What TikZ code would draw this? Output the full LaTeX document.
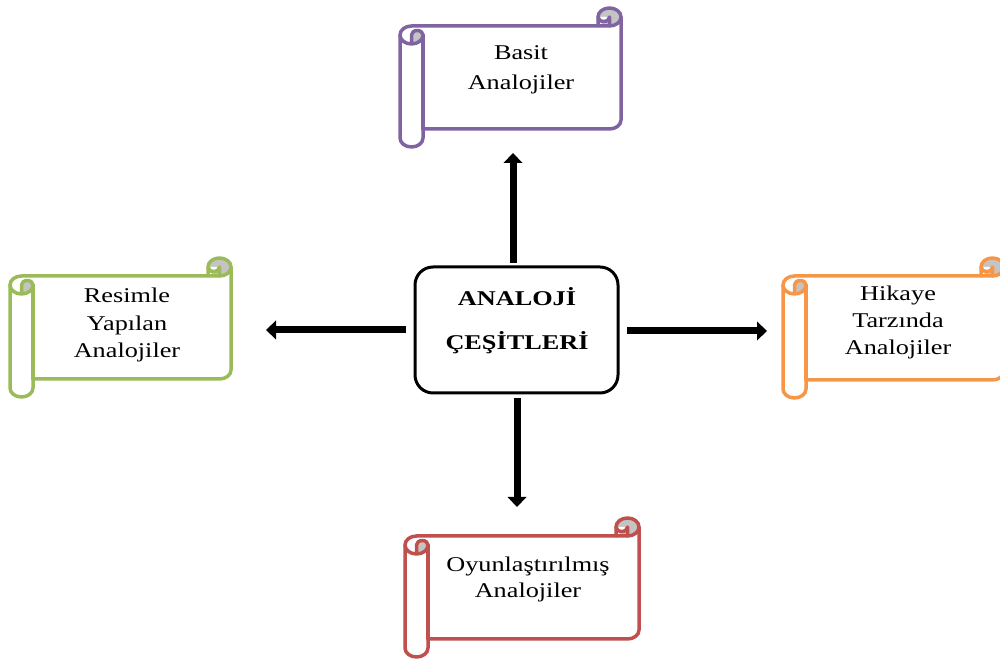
\documentclass[tikz,border=0pt]{standalone}
\usepackage{fontspec}
\setmainfont{Liberation Serif}[FakeStretch=1.25]
\usetikzlibrary{arrows.meta}

\definecolor{scrollPurple}{HTML}{8064A2}
\definecolor{scrollGreen}{HTML}{9BBB59}
\definecolor{scrollOrange}{HTML}{F79646}
\definecolor{scrollRed}{HTML}{C0504D}
\definecolor{curlGray}{HTML}{C4C4C4}

% roll size of the scrolls (horizontal, vertical)
\def\ScCX{23}
\def\ScCY{18}

% Horizontal scroll: #1 left, #2 top, #3 right, #4 bottom (top measured downwards from the upper edge), #5 colour
\newcommand{\drawscroll}[5]{%
  \pgfmathsetmacro\ScL{#1}%
  \pgfmathsetmacro\ScR{#3}%
  \pgfmathsetmacro\ScT{660-#2}%
  \pgfmathsetmacro\ScB{660-#4}%
  \pgfmathsetmacro\ScHX{\ScCX/2}%
  \pgfmathsetmacro\ScHY{\ScCY/2}%
  \pgfmathsetmacro\ScQX{\ScCX/4}%
  \pgfmathsetmacro\ScQY{\ScCY/4}%
  \pgfmathsetmacro\ScXa{\ScL+\ScHX}%
  \pgfmathsetmacro\ScXb{\ScL+\ScCX}%
  \pgfmathsetmacro\ScXc{\ScR-\ScCX}%
  \pgfmathsetmacro\ScXd{\ScR-\ScHX}%
  \pgfmathsetmacro\ScYa{\ScT-\ScHY}%
  \pgfmathsetmacro\ScYb{\ScT-\ScCY}%
  \pgfmathsetmacro\ScYc{\ScT-\ScCY-\ScHY}%
  \pgfmathsetmacro\ScYd{\ScT-2*\ScCY}%
  \pgfmathsetmacro\ScYe{\ScB+\ScCY+\ScHY}%
  \pgfmathsetmacro\ScYf{\ScB+\ScCY}%
  \pgfmathsetmacro\ScYg{\ScB+\ScHY}%
  % paper
  \fill[white] (\ScL,\ScYc)
    arc[start angle=180,end angle=90,x radius=\ScHX pt,y radius=\ScHY pt]
    -- (\ScXc,\ScYb) -- (\ScXc,\ScYa)
    arc[start angle=180,end angle=0,x radius=\ScHX pt,y radius=\ScHY pt]
    -- (\ScR,\ScYe)
    arc[start angle=0,end angle=-90,x radius=\ScHX pt,y radius=\ScHY pt]
    -- (\ScXb,\ScYf) -- (\ScXb,\ScYg)
    arc[start angle=0,end angle=-180,x radius=\ScHX pt,y radius=\ScHY pt]
    -- cycle;
  % shaded insides of the rolls
  \fill[curlGray] (\ScXd,\ScYa) ellipse[x radius=\ScHX pt,y radius=\ScHY pt];
  \fill[white] (\ScXd,\ScYa)
    arc[start angle=0,end angle=-180,x radius=\ScQX pt,y radius=\ScQY pt] -- cycle;
  \fill[curlGray] (\ScXa,\ScYd)
    arc[start angle=-90,end angle=0,x radius=\ScHX pt,y radius=\ScHY pt]
    arc[start angle=0,end angle=180,x radius=\ScQX pt,y radius=\ScQY pt] -- cycle;
  % outline
  \begin{scope}[draw=#5,line width=3.5pt,line join=round,line cap=round]
    \draw (\ScL,\ScYc)
      arc[start angle=180,end angle=90,x radius=\ScHX pt,y radius=\ScHY pt]
      -- (\ScXc,\ScYb) -- (\ScXc,\ScYa)
      arc[start angle=180,end angle=0,x radius=\ScHX pt,y radius=\ScHY pt]
      -- (\ScR,\ScYe)
      arc[start angle=0,end angle=-90,x radius=\ScHX pt,y radius=\ScHY pt]
      -- (\ScXb,\ScYf) -- (\ScXb,\ScYg)
      arc[start angle=0,end angle=-180,x radius=\ScHX pt,y radius=\ScHY pt]
      -- cycle;
    \draw (\ScXc,\ScYb) -- (\ScXd,\ScYb)
      arc[start angle=-90,end angle=0,x radius=\ScHX pt,y radius=\ScHY pt];
    \draw (\ScXd,\ScYb) -- (\ScXd,\ScYa)
      arc[start angle=0,end angle=-180,x radius=\ScQX pt,y radius=\ScQY pt];
    \draw (\ScXa,\ScYd) -- (\ScXa,\ScYc)
      arc[start angle=180,end angle=0,x radius=\ScQX pt,y radius=\ScQY pt]
      arc[start angle=0,end angle=-180,x radius=\ScHX pt,y radius=\ScHY pt];
    \draw (\ScXb,\ScYc) -- (\ScXb,\ScYf);
  \end{scope}
}

% multi-line nodes below are placed by the baseline of their last line
\tikzset{
  scrolltext/.style={align=center,anchor=base,inner sep=0pt},
  hubbox/.style={draw,line width=3pt,rounded corners=18pt,minimum width=203pt,
    minimum height=126pt,inner sep=0pt,outer sep=0pt},
  hubtext/.style={align=center,anchor=base,inner sep=0pt,
    font=\fontsize{21}{44}\selectfont\bfseries},
  blockarrow/.style={line width=7pt,-{Triangle[width=19pt,length=10pt,line width=0pt]}},
}

\begin{document}
\begin{tikzpicture}[x=1pt,y=1pt]
  \useasboundingbox (0,0) rectangle (1000,660);
  \fill[white] (0,0) rectangle (1000,660);
  \clip (0,0) rectangle (1000,660);

  % the four scrolls
  \drawscroll{400}{8}{621}{147}{scrollPurple}
  \drawscroll{10}{258}{231}{397}{scrollGreen}
  \drawscroll{783}{258}{1004}{398}{scrollOrange}
  \drawscroll{405}{518}{639}{657}{scrollRed}

  \node[scrolltext,font=\fontsize{21}{30}\selectfont] (basit) at (521,570) {Basit\\Analojiler};
  \node[scrolltext,font=\fontsize{21}{27.5}\selectfont] (resimle) at (127,302) {Resimle\\Yapılan\\Analojiler};
  \node[scrolltext,font=\fontsize{21}{27}\selectfont] (hikaye) at (898,305) {Hikaye\\Tarzında\\Analojiler};
  \node[scrolltext,font=\fontsize{21}{26.5}\selectfont] (oyun) at (528,62) {Oyunlaştırılmış\\Analojiler};

  % central box
  \node[hubbox] (hub) at (516.5,330) {};
  \node[hubtext] (hubtitle) at (517,310) {ANALOJİ\\ÇEŞİTLERİ};

  % arrow tips in front of each scroll
  \coordinate (basit-in) at (513,507);
  \coordinate (resimle-in) at (266,330);
  \coordinate (hikaye-in) at (767,329);
  \coordinate (oyun-in) at (517,153);

  \draw[blockarrow] ([shift={(-3.5,4)}]hub.north) -- (basit-in);
  \draw[blockarrow] ([shift={(-9,0)}]hub.west) -- (resimle-in);
  \draw[blockarrow] ([shift={(9,-1)}]hub.east) -- (hikaye-in);
  \draw[blockarrow] ([shift={(0.5,-5)}]hub.south) -- (oyun-in);
\end{tikzpicture}
\end{document}
